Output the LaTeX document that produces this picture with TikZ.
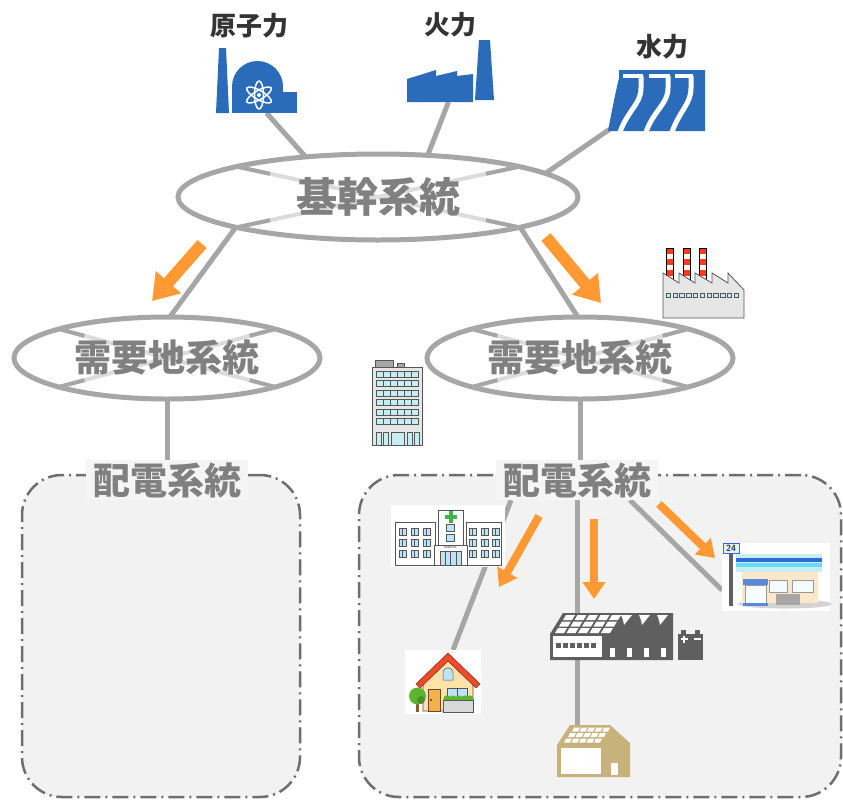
\documentclass[tikz,border=0pt]{standalone}
\usepackage{fontspec}
\newfontfamily\cjk{Noto Sans CJK JP}
\usetikzlibrary{arrows.meta,shapes.geometric,calc}
\pgfdeclarelayer{zones}
\pgfdeclarelayer{wires}
\pgfsetlayers{zones,wires,main}

\definecolor{wire}{HTML}{A6A6A6}
\definecolor{wirefade}{HTML}{DCDCDC}
\definecolor{flow}{HTML}{FF9933}
\definecolor{plantblue}{HTML}{2A6BBA}
\definecolor{hubgray}{HTML}{808080}
\definecolor{zonefill}{HTML}{F2F2F2}
\definecolor{tagfill}{HTML}{F5F5F5}
\definecolor{zoneedge}{HTML}{6E6E6E}
\definecolor{ink}{HTML}{333333}
\definecolor{outline}{HTML}{555555}
\definecolor{glass}{HTML}{C4EEF2}
\definecolor{facade}{HTML}{E6E6E6}
\definecolor{chimred}{HTML}{FF3B1F}
\definecolor{slate}{HTML}{5F5F5F}
\definecolor{cabin}{HTML}{C8B27C}
\definecolor{roofred}{HTML}{EE4B2B}
\definecolor{wallcream}{HTML}{FDE3A7}
\definecolor{doorbrown}{HTML}{F0B24A}
\definecolor{leaf}{HTML}{5CB531}
\definecolor{trunk}{HTML}{8B5A2B}
\definecolor{skyglass}{HTML}{BDE3F5}
\definecolor{crossgreen}{HTML}{3DB54A}
\definecolor{storeblue}{HTML}{2E6BD3}
\definecolor{storecyan}{HTML}{62DDF0}
\definecolor{storelight}{HTML}{C9ECF7}
\definecolor{storewall}{HTML}{FBE8C8}
\definecolor{shadowgray}{HTML}{D3D3D3}

% light X inside a hub ellipse: node name, x radius, y radius
\newcommand\hubcross[3]{%
  \foreach \sx in {1,-1}{%
    \draw[wirefade,line width=4pt]
      ($(#1.center)+(-0.70*#2*\sx,-0.70*#3)$) -- ($(#1.center)+(0.70*#2*\sx,0.70*#3)$);
    \draw[wire,line width=4pt]
      ($(#1.center)+(-0.70*#2*\sx,-0.70*#3)$) -- ($(#1.center)+(-0.54*#2*\sx,-0.54*#3)$);
    \draw[wire,line width=4pt]
      ($(#1.center)+(0.70*#2*\sx,0.70*#3)$) -- ($(#1.center)+(0.54*#2*\sx,0.54*#3)$);
  }}

\begin{document}
\begin{tikzpicture}[x=1pt,y=-1pt,
  hub/.style={ellipse,draw=wire,line width=5pt,fill=white,inner sep=0pt,outer sep=0pt},
  hubword/.style={font=\cjk\bfseries\fontsize{#1}{#1}\selectfont,text=hubgray,inner sep=0pt},
  plantword/.style={font=\cjk\bfseries\fontsize{26}{26}\selectfont,text=ink,inner sep=0pt},
  zone/.style={rectangle,rounded corners=40pt,draw=zoneedge,fill=zonefill,line width=2.5pt,
    dash pattern=on 16pt off 5pt on 2pt off 5pt,inner sep=0pt,outer sep=0pt},
  zonetag/.style={fill=tagfill,font=\cjk\bfseries\fontsize{37}{37}\selectfont,text=hubgray,
    inner xsep=7pt,inner ysep=0pt,minimum height=40pt},
  iconframe/.style={rectangle,inner sep=0pt,outer sep=0pt,draw=none},
  wireline/.style={draw=wire,line width=5pt},
  bigflow/.style={draw=flow,line width=12pt,-{Triangle[width=32pt,length=25pt]}},
  smallflow/.style={draw=flow,line width=8pt,-{Triangle[width=22pt,length=17pt]}},
  thin/.style={draw=outline,line width=0.6pt}
]
\useasboundingbox (0,0) rectangle (843,801);

% ---------- distribution zones ----------
\begin{pgfonlayer}{zones}
  \node[zone,minimum width=278pt,minimum height=322pt] (zoneL) at (161,636) {};
  \node[zone,minimum width=482pt,minimum height=322pt] (zoneR) at (600,636) {};
\end{pgfonlayer}

% ---------- hubs ----------
\node[hub,minimum width=400pt,minimum height=86pt] (core) at (378,197) {};
\hubcross{core}{200}{43}
\node[hubword=41] (coreT) at (core) {基幹系統};

\node[hub,minimum width=306pt,minimum height=82pt] (demL) at (167,358) {};
\hubcross{demL}{153}{41}
\node[hubword=37] (demLT) at (demL) {需要地系統};

\node[hub,minimum width=306pt,minimum height=82pt] (demR) at (580,358) {};
\hubcross{demR}{153}{41}
\node[hubword=37] (demRT) at (demR) {需要地系統};

% ---------- zone tags ----------
\node[zonetag] (tagL) at (167,480) {配電系統};
\node[zonetag] (tagR) at (577,480) {配電系統};

% ---------- plant labels ----------
\node[plantword] (nucT) at (249,26) {原子力};
\node[plantword] (thermT) at (450,25) {火力};
\node[plantword] (hydroT) at (662,47) {水力};

% ---------- icon frames ----------
\node[iconframe,minimum width=81pt,minimum height=65pt] (nuc) at (256.5,80.5) {};
\node[iconframe,minimum width=87pt,minimum height=62pt] (therm) at (450.5,71) {};
\node[iconframe,minimum width=98pt,minimum height=61pt] (hydro) at (656,100.5) {};
\node[iconframe,minimum width=83pt,minimum height=70pt] (plantF) at (703.5,283) {};
\node[iconframe,minimum width=50pt,minimum height=85pt] (office) at (397,402.5) {};
\node[iconframe,minimum width=114pt,minimum height=62pt] (clinic) at (448,536) {};
\node[iconframe,minimum width=76pt,minimum height=64pt] (home) at (443,682) {};
\node[iconframe,minimum width=153pt,minimum height=47pt] (works) at (626.5,636.5) {};
\node[iconframe,minimum width=108pt,minimum height=68pt] (store) at (776,577) {};
\node[iconframe,minimum width=73pt,minimum height=52pt] (cabinF) at (593.5,751) {};

% ---------- connectors ----------
\begin{pgfonlayer}{wires}
  \draw[wireline] ([xshift=10pt]nuc.south) -- (core.151);
  \draw[wireline] ([xshift=-2pt]therm.south) -- (core.40);
  \draw[wireline] ([xshift=3pt,yshift=2pt]hydro.south west) -- (core.8);
  \draw[wireline] (core.192) -- (demL.86);
  \draw[wireline] (core.348) -- (demR.93);
  \draw[wireline] (demL.south) -- (demL.south |- tagL.north);
  \draw[wireline] (demR.south) -- (demR.south |- tagR.north);
  \draw[wireline] ([xshift=-66pt]tagR.south) -- ([xshift=10pt]home.north);
  \draw[wireline] (tagR.south) -- (tagR.south |- cabinF.north);
  \draw[wireline] ([xshift=53pt]tagR.south) -- ([yshift=-13pt]store.west);
\end{pgfonlayer}

% ---------- nuclear plant ----------
\fill[plantblue] (216,113) -- (219,48) -- (226,48) -- (229,113) -- cycle;
\fill[plantblue] (257.5,86.5) circle[radius=25.5];
\fill[plantblue] (232,86.5) rectangle (283,113);
\fill[plantblue] (283,92) rectangle (297,113);
\begin{scope}[shift={(259,95)}]
  \foreach \a in {90,30,150}
    \draw[white,line width=1.5pt,rotate=\a] (0,0) ellipse[x radius=14,y radius=4.5];
  \fill[white] (0,0) circle[radius=2];
\end{scope}

% ---------- thermal plant ----------
\fill[plantblue] (407,102) -- (407,79) -- (436,70) -- (436,76) -- (457,71) -- (457,76)
  -- (473,74) -- (473,102) -- cycle;
\fill[plantblue] (475,100) -- (479,40) -- (490,40) -- (494,100) -- cycle;

% ---------- hydro plant ----------
\fill[plantblue] (619,70) -- (705,70) -- (705,131) -- (608,131)
  .. controls (612,110) and (616,90) .. (619,78) -- cycle;
\fill[white] (623,74) rectangle (643,78);
\fill[white] (649,74) rectangle (670,78);
\fill[white] (675,74) rectangle (693,78);
\foreach \t/\b in {641/620,668/646,691/672}
  \draw[white,line width=5pt] (\t,76) -- (\t,88) .. controls (\t,104) and (\b+8,110) .. (\b,132);

% ---------- factory with chimneys ----------
\foreach \cx in {666,683,699}{
  \fill[white] (\cx,248) rectangle (\cx+7,282);
  \foreach \k in {248,259,270} \fill[chimred] (\cx,\k) rectangle (\cx+7,\k+6);
  \draw[black,line width=0.6pt] (\cx,248) rectangle (\cx+7,282);
}
\draw[outline,fill=facade,line width=0.8pt] (663,318) -- (663,273) -- (679,283) -- (679,273)
  -- (695,283) -- (695,273) -- (712,283) -- (712,273) -- (728,283) -- (728,273)
  -- (744,290) -- (744,318) -- cycle;
\foreach \i in {0,...,10}
  \draw[draw=outline,fill=glass,line width=0.5pt] (666+\i*6.8,293) rectangle ++(4.5,4.5);

% ---------- office tower ----------
\draw[outline,fill=gray!70,line width=0.5pt] (375,360) rectangle (393,367);
\draw[outline,fill=gray!70,line width=0.5pt] (397,363) rectangle (404,367);
\draw[outline,fill=facade,line width=0.8pt] (372,367) rectangle (422,445);
\foreach \r in {371,380.5,390,399.5,409,418.5}{
  \draw[outline,fill=glass,line width=0.5pt] (376,\r) rectangle (418,\r+6);
  \foreach \c in {1,...,5} \draw[outline,line width=0.4pt] (376+\c*7,\r) -- ++(0,6);
}
\foreach \a/\b in {376/381,383/388,391/404,407/412,414/419}
  \draw[outline,fill=glass,line width=0.5pt] (\a,432) rectangle (\b,445);

% ---------- hospital ----------
\fill[white] (391,505) rectangle (505,567);
\draw[thin,fill=white] (395,522) rectangle (435,565);
\draw[thin,fill=white] (466,522) rectangle (501,565);
\draw[thin,fill=white] (438,510) rectangle (463,565);
\foreach \wx in {399,411,423,469,481,492}
  \foreach \wy in {528,539,550}{
    \draw[outline,fill=skyglass,line width=0.5pt] (\wx,\wy) rectangle ++(7,7);
    \draw[outline,line width=0.4pt] (\wx+3.5,\wy) -- ++(0,7);
  }
\draw[outline,fill=skyglass,line width=0.5pt] (446,524) rectangle (454,531);
\draw[outline,fill=skyglass,line width=0.5pt] (446,534) rectangle (454,541);
\fill[crossgreen] (448.5,511) rectangle (452.5,523);
\fill[crossgreen] (444.5,515) rectangle (456.5,519);
\draw[thin,fill=white] (434,545) rectangle (467,565);
\node[inner sep=0pt,font=\sffamily\fontsize{2.6}{3}\selectfont] (clinicSign) at (450.5,547.5) {HOSPITAL};
\draw[outline,fill=skyglass,line width=0.5pt] (440,551) rectangle (461,565);
\foreach \dx in {445.25,450.5,455.75} \draw[outline,line width=0.4pt] (\dx,551) -- (\dx,565);

% ---------- house ----------
\fill[white] (405,650) rectangle (481,714);
\draw[draw=trunk!80!black,fill=wallcream,line width=0.6pt]
  (423,711) -- (423,682) -- (448,660) -- (473,682) -- (473,711) -- cycle;
\draw[draw=roofred!60!black,fill=roofred,line width=0.6pt]
  (416,684) -- (448,653) -- (480,684) -- (476,688) -- (448,661) -- (420,688) -- cycle;
\draw[outline,fill=skyglass,line width=0.5pt]
  (443,680) -- (443,673) .. controls (443,666) and (453,666) .. (453,673) -- (453,680) -- cycle;
\draw[draw=trunk!80!black,fill=doorbrown,line width=0.6pt] (428,689) rectangle (440,711);
\fill[black] (431,700) circle[radius=0.9];
\draw[outline,fill=skyglass,line width=0.5pt] (447,688) rectangle (467,698);
\draw[outline,line width=0.4pt] (457,688) -- (457,698);
\foreach \bx in {447,453,459,465,470} \fill[leaf] (\bx,699) circle[radius=3.6];
\draw[outline,fill=gray!30,line width=0.6pt] (443,700) rectangle (473,712);
\fill[trunk] (416,700) rectangle (419,712);
\fill[leaf] (417.5,696) circle[radius=8.5];
\fill[leaf!80!black] (421,700) circle[radius=4];

% ---------- solar factory and battery ----------
\fill[slate] (550,634) -- (563,613) -- (673,613) -- (673,660) -- (550,660) -- cycle;
\fill[white] (553,636) rectangle (602,657);
\foreach \i in {0,...,5} \fill[slate] (556+\i*7,643) rectangle ++(4.5,4.5);
\foreach \j/\sx in {0/563,1/559,2/555}
  \foreach \i in {0,...,4}
    \fill[white] (\sx+\i*11.5,620+\j*6.5) -- (\sx+\i*11.5+3,615+\j*6.5)
      -- (\sx+\i*11.5+12,615+\j*6.5) -- (\sx+\i*11.5+9,620+\j*6.5) -- cycle;
\foreach \sx in {621,639,657}
  \fill[white] (\sx,615) -- (\sx+11,615) -- (\sx+3,625) -- (\sx+2,620) -- cycle;
\foreach \wx in {610,627,644,661} \fill[white] (\wx,648) rectangle (\wx+5,657);
\fill[slate] (678,634) rectangle (703,660);
\fill[slate] (681,630) rectangle (686,634);
\fill[slate] (695,630) rectangle (700,634);
\draw[white,line width=1.2pt] (680.5,639) -- (687.5,639) (684,635.5) -- (684,642.5);
\draw[white,line width=1.2pt] (694,639) -- (701,639);

% ---------- convenience store ----------
\fill[white] (722,543) rectangle (830,611);
\fill[shadowgray] (785,604) ellipse[x radius=47,y radius=4.5];
\fill[gray!75!black] (729,553) rectangle (733,606);
\fill[storelight] (736,554) rectangle (822,572);
\fill[storeblue] (736,558) rectangle (822,562);
\fill[storecyan] (736,563) rectangle (822,567);
\fill[storewall] (742,572) rectangle (818,603);
\fill[storeblue!80] (743,579) rectangle (768,585);
\draw[outline!60,fill=white!85!storelight,line width=0.4pt] (745,585) rectangle (766,603);
\fill[storeblue!80] (743,603) rectangle (768,606);
\draw[outline!60,fill=white!80!storelight,line width=0.5pt] (769,580) rectangle (787,592);
\draw[outline!60,fill=white!80!storelight,line width=0.5pt] (792,580) rectangle (813,592);
\fill[gray!70] (776,594) rectangle (800,605);
\draw[storeblue,fill=storelight!60,line width=1pt] (723,543) rectangle (739,553);
\node[inner sep=0pt,font=\sffamily\bfseries\fontsize{9}{9}\selectfont,text=ink] (storeSign) at (731,548.3) {24};

% ---------- small storehouse ----------
\fill[cabin] (557,745) -- (570,725) -- (610,725) -- (630,743) -- (630,777) -- (557,777) -- cycle;
\fill[white] (561,748) rectangle (601,774);
\fill[white] (611,763) rectangle (618,775);
\foreach \j/\sx in {0/572,1/568,2/564}
  \foreach \i in {0,...,4}
    \fill[white] (\sx+\i*7.5,731.5+\j*5.5) -- (\sx+\i*7.5+2,727.5+\j*5.5)
      -- (\sx+\i*7.5+8,727.5+\j*5.5) -- (\sx+\i*7.5+6,731.5+\j*5.5) -- cycle;

% ---------- power flow arrows ----------
\coordinate (f1s) at (202,244); \coordinate (f1e) at (152,301);
\coordinate (f2s) at (546,237); \coordinate (f2e) at (601,303);
\coordinate (f3s) at (539,516); \coordinate (f3e) at (499,587);
\coordinate (f4s) at (594,519); \coordinate (f4e) at (594,599);
\coordinate (f5s) at (659,504); \coordinate (f5e) at (715,558);
\draw[bigflow] (f1s) -- (f1e);
\draw[bigflow] (f2s) -- (f2e);
\draw[smallflow] (f3s) -- (f3e);
\draw[smallflow] (f4s) -- (f4e);
\draw[smallflow] (f5s) -- (f5e);
\end{tikzpicture}
\end{document}
